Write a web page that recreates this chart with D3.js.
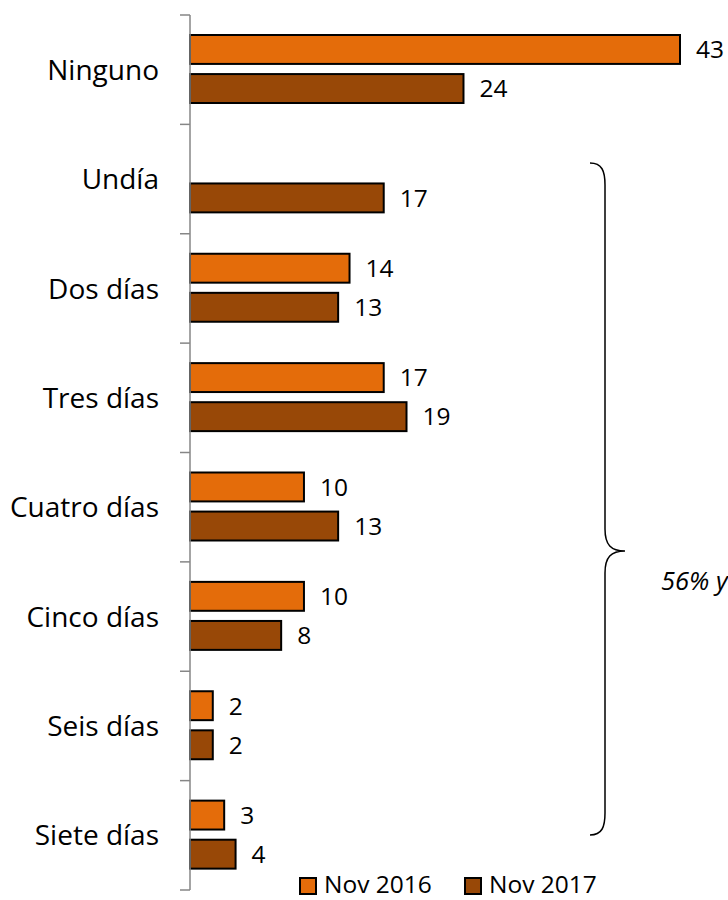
<!DOCTYPE html>
<html><head><meta charset="utf-8">
<script src="https://cdn.jsdelivr.net/npm/d3@7"></script>
<style>body{margin:0;background:#fff}svg{display:block}</style>
</head><body>
<script>
const categories = ["Ninguno","Undía","Dos días","Tres días","Cuatro días","Cinco días","Seis días","Siete días"];
const seriesNames = ["Nov 2016","Nov 2017"];
const values2016 = [43, null, 14, 17, 10, 10, 2, 3];
const values2017 = [24, 17, 13, 19, 13, 8, 2, 4];
const seriesColors = ["#E46C0A","#984807"];
const braceText = "56% y";

(function(){
const W = 728, H = 900;
const svg = d3.select("body").append("svg").attr("width", W).attr("height", H);
const font = "'Segoe UI','Open Sans','Noto Sans',sans-serif";

const x = d3.scaleLinear().domain([0, 43]).range([190, 680]);
const y = d3.scaleBand().domain(categories).range([15, 890]);
const yi = d3.scaleBand().domain(seriesNames).range([20, 88]).paddingInner(0.26);

const data = [];
categories.forEach((c, i) => {
  [values2016[i], values2017[i]].forEach((v, j) => {
    if (v != null) data.push({cat: c, s: seriesNames[j], v, color: seriesColors[j]});
  });
});

svg.selectAll("rect.bar").data(data).join("rect")
  .attr("class","bar")
  .attr("x", x(0))
  .attr("y", d => y(d.cat) + yi(d.s))
  .attr("width", d => x(d.v) - x(0))
  .attr("height", yi.bandwidth())
  .attr("fill", d => d.color)
  .attr("stroke", "#000").attr("stroke-width", 2);

svg.selectAll("text.val").data(data).join("text")
  .attr("class","val")
  .attr("x", d => x(d.v) + 16)
  .attr("y", d => y(d.cat) + yi(d.s) + yi.bandwidth()/2)
  .attr("dy", "0.36em")
  .attr("font-family", font).attr("font-size", 24.5).attr("fill", "#000")
  .text(d => d.v);

// axis
svg.append("line").attr("x1", 190).attr("x2", 190).attr("y1", 15).attr("y2", 890)
  .attr("stroke", "#868686").attr("stroke-width", 1.5);
const bounds = categories.map(c => y(c)).concat([y.range()[1]]);
svg.selectAll("line.tick").data(bounds).join("line")
  .attr("class","tick")
  .attr("x1", 180).attr("x2", 190).attr("y1", d => d).attr("y2", d => d)
  .attr("stroke", "#868686").attr("stroke-width", 1.5);

svg.selectAll("text.cat").data(categories).join("text")
  .attr("class","cat")
  .attr("x", 159)
  .attr("y", d => y(d) + y.bandwidth()/2)
  .attr("dy", "0.36em")
  .attr("text-anchor", "end")
  .attr("font-family", font).attr("font-size", 28).attr("fill", "#000")
  .text(d => d);

// brace
const bx = 605, bTop = 163, tip = 551, bot = 835;
const bp = `M${bx-15},${bTop} C${bx-3},${bTop} ${bx},${bTop+8} ${bx},${bTop+22}
 L${bx},${tip-22} C${bx},${tip-6} ${bx+6},${tip} ${bx+20},${tip}
 C${bx+6},${tip} ${bx},${tip+6} ${bx},${tip+22}
 L${bx},${bot-22} C${bx},${bot-8} ${bx-3},${bot} ${bx-15},${bot}`;
svg.append("path").attr("d", bp).attr("fill","none").attr("stroke","#000").attr("stroke-width",1.5);
svg.append("text").attr("x", 661).attr("y", 590)
  .attr("font-family", font).attr("font-size", 25.5).attr("font-style","italic")
  .text(braceText);

// legend
const lg = svg.append("g");
const legX = [300, 465];
seriesNames.forEach((s, i) => {
  lg.append("rect").attr("x", legX[i]).attr("y", 878).attr("width", 16).attr("height", 16)
    .attr("fill", seriesColors[i]).attr("stroke", "#000").attr("stroke-width", 2);
  lg.append("text").attr("x", legX[i] + 24).attr("y", 893)
    .attr("font-family", font).attr("font-size", 24.5).text(s);
});
})();
</script>
</body></html>
